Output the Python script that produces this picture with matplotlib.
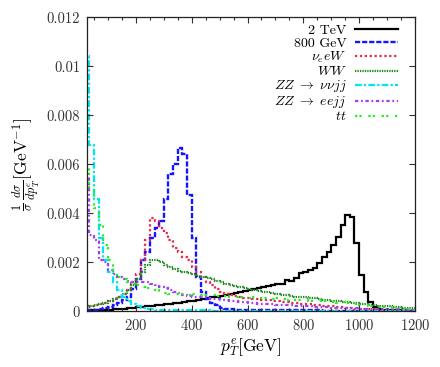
import numpy as np
import matplotlib
matplotlib.use("Agg")
import matplotlib.pyplot as plt
from matplotlib.ticker import MultipleLocator, FormatStrFormatter

plt.rcParams['font.family'] = ['cmr10', 'DejaVu Serif']
plt.rcParams['mathtext.fontset'] = 'cm'
plt.rcParams['axes.formatter.use_mathtext'] = True

# --- donnees (histogrammes, 72 bins de 0 a 1200 GeV) ---
edges = np.linspace(0, 1200, 73)

h_2tev = [0.00002, 0.00003, 0.00004, 0.00005, 0.00005, 0.00006, 0.00007, 0.00008, 0.0001, 0.00011,
          0.00013, 0.00014, 0.00016, 0.00018, 0.0002, 0.00022, 0.00024, 0.00026, 0.00028, 0.0003,
          0.00033, 0.00035, 0.00038, 0.0004, 0.00043, 0.00046, 0.00049, 0.00052, 0.00056, 0.0006,
          0.00064, 0.00068, 0.00072, 0.00076, 0.0008, 0.00083, 0.00087, 0.00091, 0.00095, 0.001,
          0.00104, 0.00108, 0.00112, 0.0011, 0.00128, 0.00125, 0.00135, 0.00155, 0.00162, 0.00168,
          0.00175, 0.00196, 0.00223, 0.00243, 0.0027, 0.00304, 0.00352, 0.00393, 0.00386, 0.00277,
          0.00148, 0.0008, 0.00039, 0.00019, 0.0001, 0.00007, 0.00005, 0.00004, 0.00003, 0.00003,
          0.00002, 0.00002]

h_800 = [0.00002, 0.00003, 0.00004, 0.00006, 0.00008, 0.00012, 0.00018, 0.00025, 0.00035, 0.00045,
         0.0006, 0.0009, 0.0013, 0.0021, 0.0024, 0.003, 0.0034, 0.0037, 0.0046, 0.0056,
         0.006, 0.00665, 0.0064, 0.00475, 0.003, 0.0014, 0.0008, 0.0005, 0.00035, 0.00025,
         0.00015, 0.0001, 0.00008, 0.00006, 0.00005, 0.00005, 0.00004, 0.00004, 0.00004, 0.00004,
         0.00004, 0.00004, 0.00003, 0.00003, 0.00003, 0.00003, 0.00003, 0.00003, 0.00003, 0.00003,
         0.00003, 0.00003, 0.00002, 0.00002, 0.00002, 0.00002, 0.00002, 0.00002, 0.00002, 0.00002,
         0.00002, 0.00002, 0.00002, 0.00002, 0.00002, 0.00002, 0.00002, 0.00002, 0.00002, 0.00002,
         0.00002, 0.00002]

h_nueW = [0.00015, 0.00018, 0.0002, 0.00024, 0.00028, 0.00033, 0.0004, 0.00048, 0.00058, 0.0007,
          0.00088, 0.0011, 0.0015, 0.0021, 0.0029, 0.0038, 0.0037, 0.0034, 0.0032, 0.0029,
          0.0026, 0.0024, 0.0022, 0.0021, 0.0018, 0.0016, 0.0014, 0.0012, 0.00105, 0.00092,
          0.0008, 0.00072, 0.00066, 0.00062, 0.00058, 0.00055, 0.00053, 0.0005, 0.00048, 0.00046,
          0.00044, 0.00042, 0.0004, 0.00039, 0.00037, 0.00035, 0.00033, 0.00031, 0.0003, 0.00028,
          0.00026, 0.00025, 0.00023, 0.00021, 0.0002, 0.00018, 0.00016, 0.00014, 0.00012, 0.00011,
          0.0001, 0.00009, 0.00008, 0.00008, 0.00007, 0.00007, 0.00006, 0.00006, 0.00005, 0.00005,
          0.00005, 0.00004]

h_ww = [0.00013, 0.00016, 0.0002, 0.00024, 0.00029, 0.00035, 0.00042, 0.0005, 0.0006, 0.00072,
        0.00088, 0.00105, 0.0013, 0.0016, 0.0019, 0.0021, 0.0021, 0.002, 0.0019, 0.0018,
        0.00172, 0.00165, 0.0016, 0.00155, 0.0015, 0.00145, 0.0014, 0.00135, 0.0013, 0.00124,
        0.00118, 0.00112, 0.00107, 0.00102, 0.00097, 0.00094, 0.0009, 0.00087, 0.00083, 0.0008,
        0.00077, 0.00074, 0.00071, 0.00068, 0.00065, 0.00062, 0.0006, 0.00058, 0.00056, 0.00054,
        0.00052, 0.0005, 0.00047, 0.00045, 0.00043, 0.0004, 0.00038, 0.00036, 0.00034, 0.00032,
        0.0003, 0.00028, 0.00026, 0.00025, 0.00023, 0.00021, 0.0002, 0.00018, 0.00017, 0.00015,
        0.00014, 0.00013]

h_zz_nn = [0.0104, 0.0104, 0.0068, 0.0046, 0.003, 0.0021, 0.0016, 0.0012, 0.00085, 0.0006,
           0.0004, 0.00028, 0.0002, 0.00014, 0.0001, 0.00008, 0.00007, 0.00006, 0.00005, 0.00005,
           0.00004, 0.00004, 0.00004, 0.00003, 0.00003, 0.00003, 0.00003, 0.00003, 0.00002, 0.00002,
           0.00002, 0.00002, 0.00002, 0.00002, 0.00002, 0.00002, 0.00002, 0.00002, 0.00002, 0.00002,
           0.00002, 0.00002, 0.00001, 0.00001, 0.00001, 0.00001, 0.00001, 0.00001, 0.00001, 0.00001,
           0.00001, 0.00001, 0.00001, 0.00001, 0.00001, 0.00001, 0.00001, 0.00001, 0.00001, 0.00001,
           0.00001, 0.00001, 0.00001, 0.00001, 0.00001, 0.00001, 0.00001, 0.00001, 0.00001, 0.00001,
           0.00001, 0.00001]

h_zz_ee = [0.0055, 0.0055, 0.0031, 0.0029, 0.0021, 0.002, 0.0017, 0.0015, 0.0014, 0.0013,
           0.00125, 0.0012, 0.0012, 0.00118, 0.0012, 0.0011, 0.00105, 0.001, 0.00093, 0.00087,
           0.0008, 0.00075, 0.00068, 0.00064, 0.0006, 0.00058, 0.00056, 0.00053, 0.0005, 0.00048,
           0.00046, 0.00044, 0.00042, 0.0004, 0.00038, 0.00036, 0.00034, 0.00033, 0.00031, 0.0003,
           0.00029, 0.00028, 0.00027, 0.00026, 0.00025, 0.00024, 0.00023, 0.00022, 0.00021, 0.0002,
           0.00019, 0.00018, 0.00017, 0.00016, 0.00015, 0.00014, 0.00013, 0.00013, 0.00012, 0.00012,
           0.00011, 0.0001, 0.0001, 0.00009, 0.00009, 0.00009, 0.00008, 0.00008, 0.00008, 0.00007,
           0.00007, 0.00007]

h_tt = [0.006, 0.006, 0.0049, 0.0042, 0.0035, 0.0027, 0.0021, 0.0017, 0.0014, 0.0013,
        0.0012, 0.0011, 0.00105, 0.001, 0.00095, 0.0009, 0.00085, 0.0008, 0.00075, 0.0007,
        0.0007, 0.00072, 0.0007, 0.00068, 0.00072, 0.0007, 0.00068, 0.00065, 0.00066, 0.00062,
        0.0006, 0.00062, 0.00058, 0.00057, 0.0006, 0.00056, 0.00055, 0.00057, 0.00054, 0.00052,
        0.00053, 0.0005, 0.00052, 0.00049, 0.00047, 0.0005, 0.00046, 0.00045, 0.00047, 0.00043,
        0.00042, 0.0004, 0.00042, 0.00038, 0.00037, 0.00035, 0.00036, 0.00032, 0.0003, 0.00028,
        0.00026, 0.00024, 0.00022, 0.0002, 0.00018, 0.00016, 0.00015, 0.00013, 0.00012, 0.00011,
        0.0001, 0.00009]

labels = ['2 TeV', '800 GeV', r'$\nu_e eW$', r'$WW$',
          r'$ZZ\ \rightarrow\ \nu\nu jj$', r'$ZZ\ \rightarrow\ eejj$', r'$tt$']

# --- style de chaque courbe ---
series = [
    (h_2tev, 'black', '-', 1.6),
    (h_800, '#1515ff', (0, (2.2, 0.8)), 1.7),
    (h_nueW, '#e8284a', (0, (1.0, 1.2)), 1.6),
    (h_ww, '#1e8a1e', (0, (0.6, 0.5)), 1.6),
    (h_zz_nn, '#00e5ee', (0, (3.0, 1.0, 1.0, 1.0)), 1.6),
    (h_zz_ee, '#a040f0', (0, (1.5, 1.2, 0.8, 1.2)), 1.6),
    (h_tt, '#22ee22', (0, (1.0, 1.0, 1.0, 3.0)), 1.6),
]

fig = plt.figure(figsize=(4.4, 3.67), dpi=100)
ax = fig.add_axes([0.198, 0.152, 0.745, 0.801])

for (vals, col, ls, lw), lab in zip(series, labels):
    ax.stairs(vals, edges, baseline=None, color=col, linestyle=ls, linewidth=lw, label=lab)

ax.set_xlim(25, 1200)
ax.set_ylim(0, 0.012)
ax.xaxis.set_major_locator(MultipleLocator(200))
ax.xaxis.set_minor_locator(MultipleLocator(50))
ax.yaxis.set_major_locator(MultipleLocator(0.002))
ax.yaxis.set_major_formatter(FormatStrFormatter('%g'))
ax.tick_params(which='both', direction='in', top=True, right=True, labelsize=10.5,
               colors='#333333', pad=5)
ax.tick_params(which='major', length=4, width=0.8)
ax.tick_params(which='minor', length=2.5, width=0.8)
for s in ax.spines.values():
    s.set_linewidth(0.9)
    s.set_color('#222222')

ax.set_xlabel(r'$p_T^e[\mathrm{GeV}]$', fontsize=12.5, labelpad=2)
ax.set_ylabel(r'$\frac{1}{\sigma}\,\frac{d\sigma}{dp_T^e}[\mathrm{GeV}^{-1}]$', fontsize=12.5, labelpad=3)

ax.legend(loc='upper right', bbox_to_anchor=(0.948, 0.975), frameon=False, markerfirst=False,
          fontsize=10, handlelength=3.1, handletextpad=0.6, labelspacing=0.0,
          borderpad=0, borderaxespad=0)

fig.savefig('out.png', dpi=100)
